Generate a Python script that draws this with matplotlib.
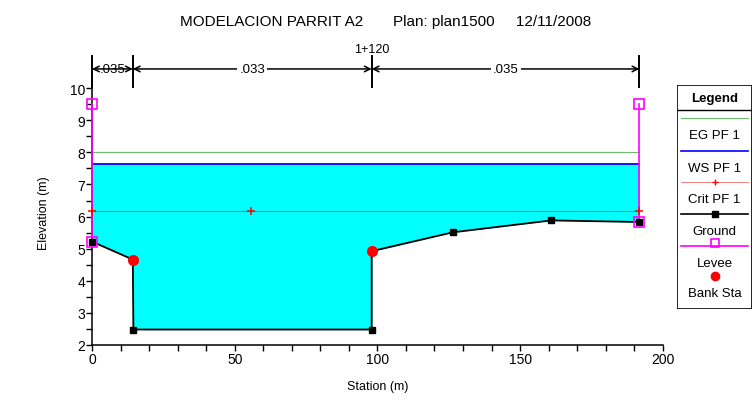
import numpy as np
import matplotlib.pyplot as plt
from matplotlib.ticker import MultipleLocator
from matplotlib.patches import Rectangle

plt.rcParams['font.family'] = ['Liberation Sans', 'DejaVu Sans']

# datos de la seccion
ground_sta = [0, 14.3, 14.5, 98, 98, 126.5, 161, 191.8]
ground_elev = [5.22, 4.66, 2.48, 2.48, 4.92, 5.51, 5.88, 5.83]
ws_elev = 7.63
eg_elev = 8.0
crit_elev = 6.18
crit_sta = [0, 55.8, 191.8]
levee_sta = [0, 191.8]
levee_top = [9.5, 9.5]
levee_bot = [5.22, 5.83]
bank_sta = [14.3, 98]
bank_elev = [4.66, 4.94]
n_limits = [0, 14.3, 98, 191.8]
n_values = ['.035', '.033', '.035']

fig = plt.figure(figsize=(7.56, 4.06), dpi=100)
ax = fig.add_axes([0.1217, 0.148, 0.755, 0.656])

x0, x1 = ground_sta[0], ground_sta[-1]

# agua
ax.fill_between(ground_sta, ground_elev, ws_elev,
                where=np.array(ground_elev) < ws_elev, color='#00ffff', lw=0, zorder=1)
ax.plot([x0, x1], [eg_elev, eg_elev], color='#6cc06c', lw=0.8, zorder=2)
ax.plot([x0, x1], [ws_elev, ws_elev], color='#0000ff', lw=1.3, zorder=3)
ax.plot([x0, x1], [crit_elev, crit_elev], color='#7a7a7a', lw=0.8, zorder=2)
ax.plot(crit_sta, [crit_elev] * len(crit_sta), ls='none', marker='+',
        color='red', ms=6, mew=1.1, zorder=8, clip_on=False)

# diques
for s, top, bot in zip(levee_sta, levee_top, levee_bot):
    ax.plot([s, s], [bot, top], color='#ff00ff', lw=1.2, zorder=4, clip_on=False)
    ax.plot([s, s], [bot, top], ls='none', marker='s', mfc='none',
            mec='#ff00ff', ms=7.5, mew=1.2, zorder=6, clip_on=False)

# terreno
ax.plot(ground_sta, ground_elev, color='black', lw=1.3, marker='s', ms=5,
        zorder=5, clip_on=False)
ax.plot(bank_sta, bank_elev, ls='none', marker='o', color='red', ms=7, zorder=7)

ax.set_xlim(0, 200)
ax.set_ylim(2, 10.3)
ax.xaxis.set_major_locator(MultipleLocator(50))
ax.xaxis.set_minor_locator(MultipleLocator(10))
ax.yaxis.set_major_locator(MultipleLocator(1))
ax.yaxis.set_minor_locator(MultipleLocator(0.5))
ax.tick_params(which='both', direction='out', length=4, width=1, labelsize=10, pad=1)
for side in ['top', 'right']:
    ax.spines[side].set_visible(False)
for side in ['left', 'bottom']:
    ax.spines[side].set_linewidth(1.1)
ax.set_xlabel('Station (m)', fontsize=9, labelpad=10)
ax.set_ylabel('Elevation (m)', fontsize=9, labelpad=14)

# rugosidades de Manning
y_br = 10.6
for s in n_limits:
    ax.plot([s, s], [10.05, 11.0], color='black', lw=1.4, clip_on=False)
for a, b, t in zip(n_limits[:-1], n_limits[1:], n_values):
    ax.annotate('', xy=(a, y_br), xytext=(b, y_br),
                arrowprops=dict(arrowstyle='<->', color='black', lw=1.1,
                                shrinkA=0, shrinkB=0), annotation_clip=False)
    ax.text((a + b) / 2, y_br, t, ha='center', va='center', fontsize=9.5,
            bbox=dict(facecolor='white', edgecolor='none', pad=1.5) if b - a > 30 else None,
            clip_on=False)
ax.text(98, 11.05, '1+120', ha='center', va='bottom', fontsize=9)

fig.text(0.51, 0.945, 'MODELACION PARRIT A2       Plan: plan1500     12/11/2008',
         ha='center', va='center', fontsize=11)

# leyenda
lg = fig.add_axes([677 / 756, 1 - 310 / 406, 75 / 756, 224 / 406])
lg.set_xlim(0, 75)
lg.set_ylim(310, 86)
lg.axis('off')
lg.add_patch(Rectangle((0, 86), 75, 224, fill=False, lw=1.2, ec='black'))
lg.plot([0, 75], [111, 111], color='black', lw=1)
lg.text(37.5, 99, 'Legend', ha='center', va='center', fontsize=9.5, fontweight='bold')
items = [
    ('EG PF 1', 119, dict(color='#6cc06c', lw=0.8)),
    ('WS PF 1', 152, dict(color='#0000ff', lw=1.2)),
    ('Crit PF 1', 183, dict(color='#f08080', lw=0.7)),
    ('Ground', 215, dict(color='black', lw=1.2)),
    ('Levee', 247, dict(color='#ff00ff', lw=1.2)),
]
for name, y, kw in items:
    lg.plot([4, 71], [y, y], **kw)
    lg.text(37.5, y + 17, name, ha='center', va='center', fontsize=9.5)
lg.plot([37.5], [183], marker='+', color='red', ms=5, mew=1)
lg.plot([37.5], [215], marker='s', color='black', ms=5)
lg.plot([37.5], [244], marker='s', mfc='none', mec='#ff00ff', ms=6, mew=1.2)
lg.plot([37.5], [277], marker='o', color='red', ms=6)
lg.text(37.5, 294, 'Bank Sta', ha='center', va='center', fontsize=9.5)

fig.savefig('out.png', dpi=100)
